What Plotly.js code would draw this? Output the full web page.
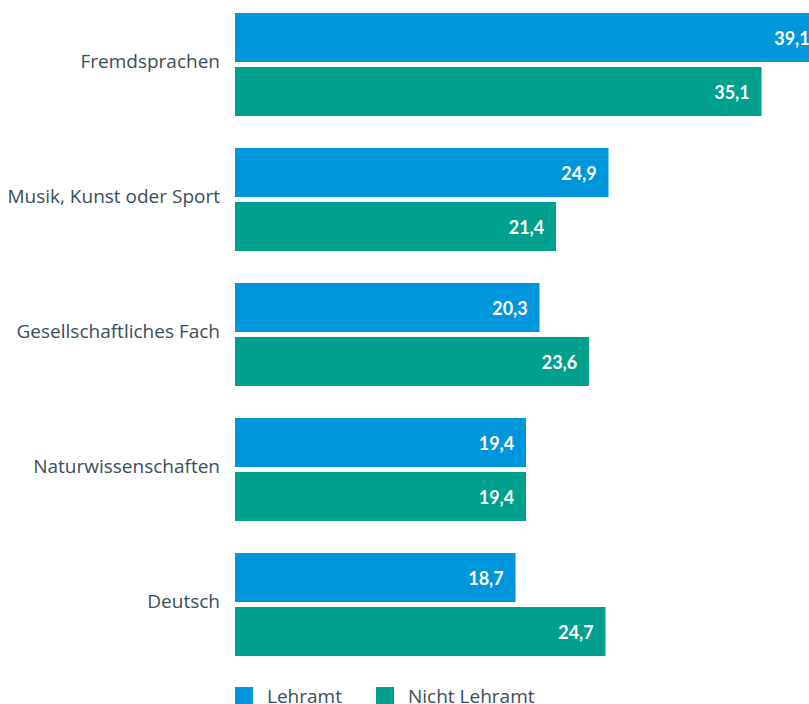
<!DOCTYPE html>
<html>
<head>
<meta charset="utf-8">
<script src="https://cdn.plot.ly/plotly-3.0.1.min.js"></script>
<style>
  html, body { margin: 0; padding: 0; overflow: hidden; background: #fff; }
</style>
</head>
<body>
<div id="chart" style="width:823px;height:704px;"></div>
<script>
// Fächer, von oben nach unten
var categories = ['Fremdsprachen', 'Musik, Kunst oder Sport', 'Gesellschaftliches Fach', 'Naturwissenschaften', 'Deutsch'];
var seriesNames = ['Lehramt', 'Nicht Lehramt'];
var lehramt = [39.1, 24.9, 20.3, 19.4, 18.7];
var nichtLehramt = [35.1, 21.4, 23.6, 19.4, 24.7];
var colors = ['#0096db', '#00a08e'];

var font = '"Open Sans", sans-serif';
var boldFont = 'Lato, sans-serif';
var textColor = '#3b4d5a';

function makeTrace(name, values, color) {
  return {
    type: 'bar',
    orientation: 'h',
    name: name,
    y: categories,
    x: values,
    marker: { color: color },
    texttemplate: '%{x:.1f}\u00a0\u00a0',
    textposition: 'inside',
    insidetextanchor: 'end',
    textangle: 0,
    insidetextfont: { color: '#ffffff', size: 18, family: boldFont, weight: 'bold' },
    hoverinfo: 'none',
    cliponaxis: false
  };
}

var data = [
  makeTrace(seriesNames[0], lehramt, colors[0]),
  makeTrace(seriesNames[1], nichtLehramt, colors[1])
];

// legend drawn by hand to get the big squares
var legendX = [[0, 0.0306], [0.2398, 0.2704]];
var legendTextX = [0.0510, 0.2908];
var shapes = [];
var annotations = [];
for (var i = 0; i < seriesNames.length; i++) {
  shapes.push({
    type: 'rect', xref: 'paper', yref: 'paper',
    x0: legendX[i][0], x1: legendX[i][1], y0: -0.0254, y1: -0.0508,
    fillcolor: colors[i], line: { width: 0 }
  });
  annotations.push({
    xref: 'paper', yref: 'paper', x: legendTextX[i], y: -0.0381,
    xanchor: 'left', yanchor: 'middle', showarrow: false,
    text: seriesNames[i], font: { family: font, size: 19, color: textColor }
  });
}

var layout = {
  width: 823,
  height: 704,
  margin: { l: 235, r: 0, t: 0, b: 34 },
  barmode: 'group',
  bargap: 0.2,
  bargroupgap: 0.0926,
  separators: ',.',
  showlegend: false,
  paper_bgcolor: '#ffffff',
  plot_bgcolor: '#ffffff',
  font: { family: font, size: 19, color: textColor },
  xaxis: { range: [0, 39.2], visible: false, fixedrange: true },
  yaxis: {
    type: 'category',
    range: [4.485, -0.478],
    showgrid: false, zeroline: false, showline: false,
    ticks: '', ticklabelstandoff: 14, ticklabelshift: 3,
    tickfont: { family: font, size: 19, color: textColor },
    fixedrange: true
  },
  shapes: shapes,
  annotations: annotations
};

Plotly.newPlot('chart', data, layout, { displayModeBar: false, staticPlot: true });
</script>
</body>
</html>
